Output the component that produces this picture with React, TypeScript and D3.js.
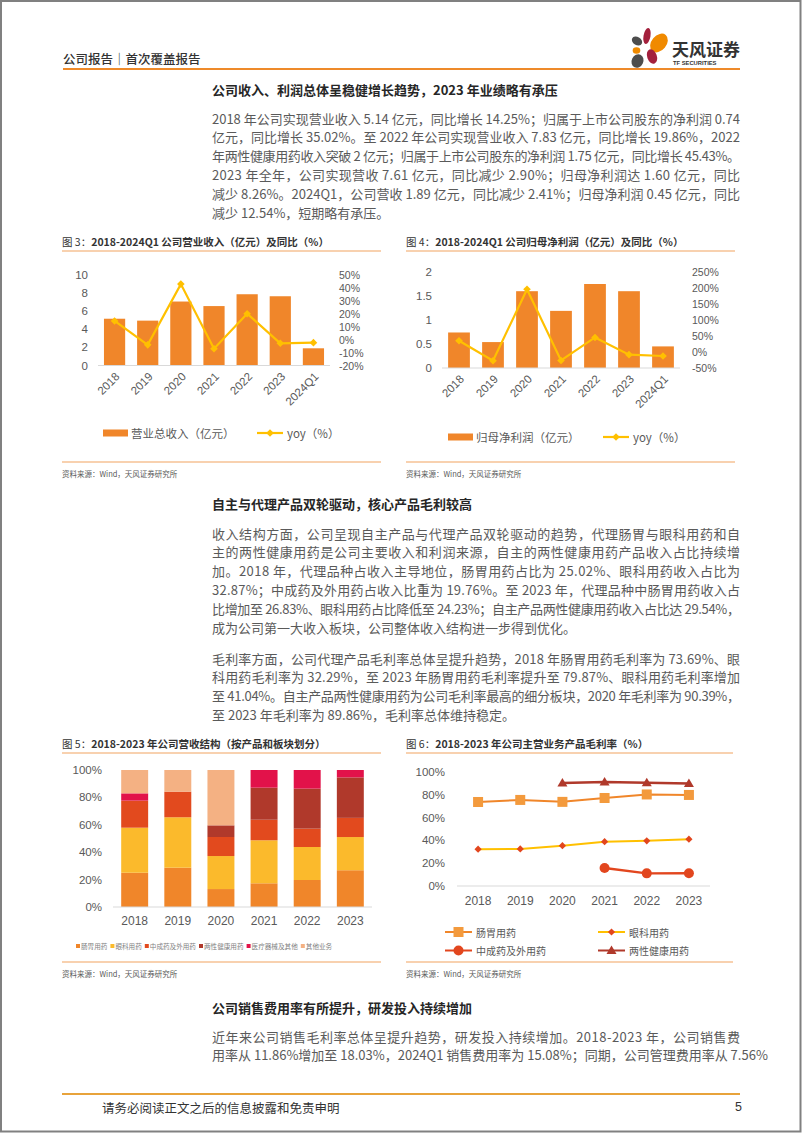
import React from 'react';
import * as d3 from 'd3';

const CJK = '"Noto Sans CJK SC", "Noto Sans", sans-serif';
const NUM = '"Liberation Sans", "Noto Sans CJK SC", sans-serif';

// ---------- data ----------
const years7 = ['2018', '2019', '2020', '2021', '2022', '2023', '2024Q1'];
const revenue = [5.14, 4.93, 7.03, 6.53, 7.83, 7.61, 1.89];
const revenueYoy = [14.25, -4.1, 42.6, -7.1, 19.86, -2.9, -2.41];
const revTicksL = [0, 2, 4, 6, 8, 10];
const revTicksR = [-20, -10, 0, 10, 20, 30, 40, 50];

const profit = [0.74, 0.54, 1.6, 1.19, 1.75, 1.6, 0.45];
const profitYoy = [35.02, -27.5, 196, -26.5, 45.43, -8.26, -12.54];
const profTicksL = [0, 0.5, 1, 1.5, 2];
const profTicksR = [-50, 0, 50, 100, 150, 200, 250];

const years6 = ['2018', '2019', '2020', '2021', '2022', '2023'];
const structNames = ['肠胃用药', '眼科用药', '中成药及外用药', '两性健康用药', '医疗器械及其他', '其他业务'];
const sGastro = [25.02, 28.7, 13.1, 17.3, 19.7, 26.83];
const sOphth = [32.87, 36.8, 24.1, 31.4, 24.1, 24.23];
const sTcm = [19.76, 18.7, 13.9, 15.0, 13.4, 14.0];
const sSexual = [0, 0, 8.5, 23.4, 29.2, 29.54];
const sDevice = [5.3, 0, 0, 12.9, 13.6, 5.4];
const sOther = [17.05, 15.8, 40.4, 0, 0, 0];
const pctTicks = [0, 20, 40, 60, 80, 100];

const gmNames = ['肠胃用药', '眼科用药', '中成药及外用药', '两性健康用药'];
const gmGastro = [73.69, 75.5, 73.8, 77.2, 80.3, 79.87];
const gmOphth = [32.29, 32.5, 35.4, 38.9, 39.6, 41.04];
const gmTcm: (number | null)[] = [null, null, null, 15.8, 11.1, 11.2];
const gmSexual: (number | null)[] = [null, null, 90.39, 91.2, 90.6, 89.86];

// ---------- text ----------
const header = '公司报告｜首次覆盖报告';
const heading1 = '公司收入、利润总体呈稳健增长趋势，2023 年业绩略有承压';
const para1 = [
  '2018 年公司实现营业收入 5.14 亿元，同比增长 14.25%；归属于上市公司股东的净利润 0.74',
  '亿元，同比增长 35.02%。至 2022 年公司实现营业收入 7.83 亿元，同比增长 19.86%，2022',
  '年两性健康用药收入突破 2 亿元；归属于上市公司股东的净利润 1.75 亿元，同比增长 45.43%。',
  '2023 年全年，公司实现营收 7.61 亿元，同比减少 2.90%；归母净利润达 1.60 亿元，同比',
  '减少 8.26%。2024Q1，公司营收 1.89 亿元，同比减少 2.41%；归母净利润 0.45 亿元，同比',
  '减少 12.54%，短期略有承压。',
];
const heading2 = '自主与代理产品双轮驱动，核心产品毛利较高';
const para2 = [
  '收入结构方面，公司呈现自主产品与代理产品双轮驱动的趋势，代理肠胃与眼科用药和自',
  '主的两性健康用药是公司主要收入和利润来源，自主的两性健康用药产品收入占比持续增',
  '加。2018 年，代理品种占收入主导地位，肠胃用药占比为 25.02%、眼科用药收入占比为',
  '32.87%；中成药及外用药占收入比重为 19.76%。至 2023 年，代理品种中肠胃用药收入占',
  '比增加至 26.83%、眼科用药占比降低至 24.23%；自主产品两性健康用药收入占比达 29.54%，',
  '成为公司第一大收入板块，公司整体收入结构进一步得到优化。',
];
const para3 = [
  '毛利率方面，公司代理产品毛利率总体呈提升趋势，2018 年肠胃用药毛利率为 73.69%、眼',
  '科用药毛利率为 32.29%，至 2023 年肠胃用药毛利率提升至 79.87%、眼科用药毛利率增加',
  '至 41.04%。自主产品两性健康用药为公司毛利率最高的细分板块，2020 年毛利率为 90.39%，',
  '至 2023 年毛利率为 89.86%，毛利率总体维持稳定。',
];
const heading3 = '公司销售费用率有所提升，研发投入持续增加';
const para4 = [
  '近年来公司销售毛利率总体呈提升趋势，研发投入持续增加。2018-2023 年，公司销售费',
  '用率从 11.86%增加至 18.03%，2024Q1 销售费用率为 15.08%；同期，公司管理费用率从 7.56%',
];
const source = '资料来源：Wind，天风证券研究所';
const footer = '请务必阅读正文之后的信息披露和免责申明';

const ORANGE = '#F0862A';
const YELLOW = '#FFC000';
const LABEL = '#595959';
const GRID = '#D9D9D9';
const TITLE_LINE = '#F2A460';

function Para({ lines, y0, dy = 18.8, x = 212, width = 528 }: any) {
  return (
    <g>
      {lines.map((l: string, i: number) => {
        const last = i === lines.length - 1;
        const extra: any = last ? {} : { textLength: width, lengthAdjust: 'spacing' };
        return (
          <text key={i} x={x} y={y0 + i * dy} dominantBaseline="central" fontSize={13}
            fill="#5a5a5a" fontFamily={CJK} {...extra}>{l}</text>
        );
      })}
    </g>
  );
}

function FigTitle({ x, y, num, rest, x2 }: any) {
  return (
    <g>
      <text x={x} y={y} dominantBaseline="central" fontSize={10.5} fill="#333" fontFamily={CJK} style={{ whiteSpace: 'pre' }}>
        <tspan>{`图 ${num}：`}</tspan>
        <tspan fontWeight="bold">{rest}</tspan>
      </text>
      <line x1={x} x2={x2} y1={y + 10} y2={y + 10} stroke={TITLE_LINE} strokeWidth={1.2} />
    </g>
  );
}

function Source({ x, y, x2 }: any) {
  return (
    <g>
      <line x1={x} x2={x2} y1={y} y2={y} stroke={TITLE_LINE} strokeWidth={1.2} />
      <text x={x} y={y + 11.5} dominantBaseline="central" fontSize={7.5} fill="#595959" fontFamily={CJK}>{source}</text>
    </g>
  );
}

function diamond(x: number, y: number, r: number) {
  return `M${x},${y - r}L${x + r},${y}L${x},${y + r}L${x - r},${y}Z`;
}

function ComboChart({ x0, x1, yBase, yTop, values, yoy, ticksL, ticksR, domL, domR, labL, labR, fmtL, legendBarX, legendBarText, legendLineX, legendY }: any) {
  const x = d3.scaleBand().domain(years7).range([x0, x1]).paddingInner(0.36).paddingOuter(0.18);
  const yL = d3.scaleLinear().domain(domL).range([yBase, yTop]);
  const yR = d3.scaleLinear().domain(domR).range([yBase, yTop]);
  const line = d3.line<number>().x((_, i) => (x(years7[i]) as number) + x.bandwidth() / 2).y((d) => yR(d));
  return (
    <g fontFamily={NUM}>
      {ticksL.map((t: number) => (
        <text key={'l' + t} x={labL} y={yL(t)} textAnchor="end" dominantBaseline="central" fontSize={11.5} fill={LABEL}>{fmtL(t)}</text>
      ))}
      {ticksR.map((t: number) => (
        <text key={'r' + t} x={labR} y={yR(t)} dominantBaseline="central" fontSize={10.5} fill={LABEL}>{`${t}%`}</text>
      ))}
      {values.map((v: number, i: number) => (
        <rect key={i} x={x(years7[i])} y={yL(v)} width={x.bandwidth()} height={yBase - yL(v)} fill={ORANGE} />
      ))}
      <line x1={x0} x2={x1} y1={yBase} y2={yBase} stroke={GRID} strokeWidth={1} />
      <path d={line(yoy) as string} fill="none" stroke={YELLOW} strokeWidth={2.2} />
      {yoy.map((v: number, i: number) => (
        <path key={i} d={diamond((x(years7[i]) as number) + x.bandwidth() / 2, yR(v), 3.8)} fill={YELLOW} />
      ))}
      {years7.map((c) => (
        <text key={c} transform={`translate(${(x(c) as number) + x.bandwidth() / 2 + 3},${yBase + 9}) rotate(-45)`}
          textAnchor="end" dominantBaseline="central" fontSize={11.5} fill={LABEL}>{c}</text>
      ))}
      <rect x={legendBarX} y={legendY - 3.5} width={25} height={7} fill={ORANGE} />
      <text x={legendBarX + 28} y={legendY} dominantBaseline="central" fontSize={11.5} fill={LABEL} fontFamily={CJK}>{legendBarText}</text>
      <line x1={legendLineX} x2={legendLineX + 26} y1={legendY} y2={legendY} stroke={YELLOW} strokeWidth={2.2} />
      <path d={diamond(legendLineX + 13, legendY, 3.8)} fill={YELLOW} />
      <text x={legendLineX + 30} y={legendY} dominantBaseline="central" fontSize={11.5} fill={LABEL} fontFamily={CJK}>yoy（%）</text>
    </g>
  );
}

function StructChart() {
  const x = d3.scaleBand().domain(years6).range([113, 372]).paddingInner(0.375).paddingOuter(0.19);
  const y = d3.scaleLinear().domain([0, 100]).range([907, 770]);
  const seriesArr = [sGastro, sOphth, sTcm, sSexual, sDevice, sOther];
  const colors = ['#F0862A', '#FBBA2C', '#E24A1E', '#B0392B', '#E2124A', '#F4B183'];
  const rows = years6.map((yr, i) => {
    const o: any = { year: yr };
    structNames.forEach((n, k) => (o[n] = seriesArr[k][i]));
    return o;
  });
  const stacked = d3.stack<any>().keys(structNames)(rows);
  let lx = 76;
  const legendItems = structNames.map((n, k) => {
    const item = { n, k, sx: lx, tx: lx + 5 };
    lx += 5 + n.length * 6.6 + 3;
    return item;
  });
  return (
    <g fontFamily={NUM}>
      {pctTicks.map((t) => (
        <text key={t} x={102} y={y(t)} textAnchor="end" dominantBaseline="central" fontSize={11.5} fill={LABEL}>{`${t}%`}</text>
      ))}
      {stacked.map((s, k) => (
        <g key={k} fill={colors[k]}>
          {s.map((d, i) => (d[1] - d[0] > 0 ? (
            <rect key={i} x={x(years6[i])} y={y(d[1])} width={x.bandwidth()} height={y(d[0]) - y(d[1])} />
          ) : null))}
        </g>
      ))}
      <line x1={113} x2={372} y1={907} y2={907} stroke={GRID} strokeWidth={1} />
      {years6.map((c) => (
        <text key={c} x={(x(c) as number) + x.bandwidth() / 2} y={921} textAnchor="middle" dominantBaseline="central" fontSize={12} fill={LABEL}>{c}</text>
      ))}
      {legendItems.map((it) => (
        <g key={it.n}>
          <rect x={it.sx} y={944} width={4} height={4} fill={colors[it.k]} />
          <text x={it.tx} y={946} dominantBaseline="central" fontSize={6.6} fill="#7f7f7f" fontFamily={CJK}>{it.n}</text>
        </g>
      ))}
    </g>
  );
}

function MarginChart() {
  const x = d3.scalePoint().domain(years6).range([457, 710]).padding(0.5);
  const y = d3.scaleLinear().domain([0, 100]).range([886, 772]);
  const series = [
    { name: gmNames[0], data: gmGastro as (number | null)[], color: '#F0862A', mcolor: '#F39A3D', marker: 'square', width: 2 },
    { name: gmNames[1], data: gmOphth as (number | null)[], color: YELLOW, mcolor: '#E2461E', marker: 'diamond', width: 2 },
    { name: gmNames[2], data: gmTcm, color: '#E2461E', mcolor: '#E2461E', marker: 'circle', width: 2.4 },
    { name: gmNames[3], data: gmSexual, color: '#B0392B', mcolor: '#B0392B', marker: 'triangle', width: 2.4 },
  ];
  const mk = (type: string, cx: number, cy: number, color: string, key: any) => {
    if (type === 'square') return <rect key={key} x={cx - 5} y={cy - 5} width={10} height={10} fill={color} />;
    if (type === 'diamond') return <path key={key} d={diamond(cx, cy, 3.6)} fill={color} />;
    if (type === 'circle') return <circle key={key} cx={cx} cy={cy} r={5} fill={color} />;
    return <path key={key} d={`M${cx},${cy - 5}L${cx + 5},${cy + 3.5}L${cx - 5},${cy + 3.5}Z`} fill={color} />;
  };
  const legendPos = [
    { x: 445, y: 932 }, { x: 598, y: 932 }, { x: 445, y: 950.5 }, { x: 598, y: 950.5 },
  ];
  return (
    <g fontFamily={NUM}>
      {pctTicks.map((t) => (
        <text key={t} x={445} y={y(t)} textAnchor="end" dominantBaseline="central" fontSize={11.5} fill={LABEL}>{`${t}%`}</text>
      ))}
      <line x1={457} x2={710} y1={886} y2={886} stroke={GRID} strokeWidth={1} />
      {years6.map((c) => (
        <text key={c} x={x(c)} y={901} textAnchor="middle" dominantBaseline="central" fontSize={12} fill={LABEL}>{c}</text>
      ))}
      {series.map((s, k) => {
        const line = d3.line<number | null>()
          .defined((d) => d !== null)
          .x((_, i) => x(years6[i]) as number)
          .y((d) => y(d as number));
        return (
          <g key={k}>
            <path d={line(s.data) as string} fill="none" stroke={s.color} strokeWidth={s.width} />
            {s.data.map((d, i) => (d === null ? null : mk(s.marker, x(years6[i]) as number, y(d), s.mcolor, i)))}
          </g>
        );
      })}
      {series.map((s, k) => (
        <g key={'lg' + k}>
          <line x1={legendPos[k].x} x2={legendPos[k].x + 27} y1={legendPos[k].y} y2={legendPos[k].y} stroke={s.color} strokeWidth={2} />
          {mk(s.marker, legendPos[k].x + 13.5, legendPos[k].y, s.mcolor, 'm')}
          <text x={legendPos[k].x + 31} y={legendPos[k].y} dominantBaseline="central" fontSize={10} fill={LABEL} fontFamily={CJK}>{s.name}</text>
        </g>
      ))}
    </g>
  );
}

function Logo() {
  return (
    <g>
      <ellipse cx={647} cy={36} rx={3.5} ry={8} fill="#A3203C" transform="rotate(10,647,36)" />
      <ellipse cx={659} cy={43} rx={7.5} ry={10.5} fill="#F08A00" transform="rotate(40,659,43)" />
      <ellipse cx={637} cy={41} rx={5.5} ry={4} fill="#4D4D4D" transform="rotate(30,637,41)" />
      <ellipse cx={636.5} cy={50.5} rx={3.8} ry={3.2} fill="#F08A00" />
      <ellipse cx={637.5} cy={61} rx={5.8} ry={7} fill="#4D4D4D" transform="rotate(25,637.5,61)" />
      <ellipse cx={652} cy={56.5} rx={4.8} ry={7.5} fill="#A3203C" transform="rotate(-20,652,56.5)" />
      <text x={672} y={48} dominantBaseline="central" fontSize={17} fontWeight="bold" fill="#333" fontFamily={CJK}>天风证券</text>
      <text x={673} y={63} dominantBaseline="central" fontSize={5.8} fontWeight="bold" fill="#333" fontFamily={NUM}>TF SECURITIES</text>
    </g>
  );
}

export default function App() {
  return (
    <div style={{ position: 'absolute', left: 0, top: 0, width: 802, height: 1133, background: '#fff' }}>
      <svg width={802} height={1133} style={{ display: 'block' }}>
        <rect x={0} y={0} width={802} height={1133} fill="#fff" />
        <rect x={1} y={1} width={799.5} height={1130.5} fill="none" stroke="#808080" strokeWidth={2} />
        <text x={63} y={58} dominantBaseline="central" fontSize={12.5} fontWeight={500} fill="#333" fontFamily={CJK}>{header}</text>
        <line x1={63} x2={740} y1={69} y2={69} stroke="#EE8A2A" strokeWidth={2} />
        <Logo />
        <text x={212} y={89} dominantBaseline="central" fontSize={13} fontWeight="bold" fill="#262626" fontFamily={CJK}>{heading1}</text>
        <Para lines={para1} y0={118} />

        <FigTitle x={62} y={241} num={3} rest="2018-2024Q1 公司营业收入（亿元）及同比（%）" x2={381} />
        <FigTitle x={406} y={241} num={4} rest="2018-2024Q1 公司归母净利润（亿元）及同比（%）" x2={735} />
        <ComboChart x0={98} x1={330} yBase={365.5} yTop={274.5} values={revenue} yoy={revenueYoy}
          ticksL={revTicksL} ticksR={revTicksR} domL={[0, 10]} domR={[-20, 50]} labL={88} labR={339}
          fmtL={(t: number) => `${t}`} legendBarX={103} legendBarText="营业总收入（亿元）" legendLineX={257} legendY={433} />
        <ComboChart x0={442} x1={680} yBase={368} yTop={272} values={profit} yoy={profitYoy}
          ticksL={profTicksL} ticksR={profTicksR} domL={[0, 2]} domR={[-50, 250]} labL={432} labR={692}
          fmtL={(t: number) => `${t}`} legendBarX={448} legendBarText="归母净利润（亿元）" legendLineX={603} legendY={437} />
        <Source x={62} y={462} x2={381} />
        <Source x={406} y={462} x2={735} />

        <text x={212} y={503} dominantBaseline="central" fontSize={13} fontWeight="bold" fill="#262626" fontFamily={CJK}>{heading2}</text>
        <Para lines={para2} y0={533} />
        <Para lines={para3} y0={658} />

        <FigTitle x={62} y={743} num={5} rest="2018-2023 年公司营收结构（按产品和板块划分）" x2={381} />
        <FigTitle x={406} y={743} num={6} rest="2018-2023 年公司主营业务产品毛利率（%）" x2={733} />
        <StructChart />
        <MarginChart />
        <Source x={62} y={962} x2={381} />
        <Source x={406} y={962} x2={733} />

        <text x={212} y={1007} dominantBaseline="central" fontSize={13} fontWeight="bold" fill="#262626" fontFamily={CJK}>{heading3}</text>
        <Para lines={para4} y0={1036} />

        <line x1={62} x2={740} y1={1094} y2={1094} stroke="#E8A33B" strokeWidth={2} />
        <text x={102} y={1107} dominantBaseline="central" fontSize={12.5} fill="#333" fontFamily={CJK}>{footer}</text>
        <text x={735} y={1107} dominantBaseline="central" fontSize={12.5} fill="#333" fontFamily={NUM}>5</text>
      </svg>
    </div>
  );
}
